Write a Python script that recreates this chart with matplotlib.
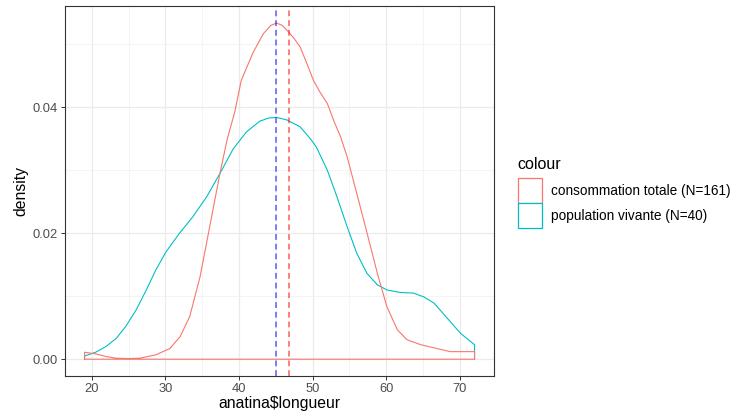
import matplotlib.pyplot as plt
from matplotlib.patches import Patch

plt.rcParams['font.family'] = ['Liberation Sans', 'DejaVu Sans']

# density curves
conso_x = [19, 20.5, 22, 23.3, 25, 26.5, 28.7, 30.6, 32, 33.3, 34.7, 36, 37.4, 38.4, 39.4,
           40.3, 41.9, 43.3, 44.3, 45.1, 45.9, 46.7, 47.5, 48.3, 49.2, 50.1, 51, 52, 52.9,
           53.8, 54.7, 56, 57.4, 58.8, 60.1, 61.5, 62.8, 64.7, 66.5, 68.7, 72]
conso_y = [0.0011, 0.00085, 0.0004, 0.00016, 0.0001, 0.00016, 0.0007, 0.0017, 0.0036, 0.0068,
           0.0131, 0.021, 0.0295, 0.035, 0.0392, 0.0443, 0.0487, 0.0517, 0.0530, 0.0534,
           0.0530, 0.0520, 0.0509, 0.0496, 0.047, 0.0443, 0.0424, 0.0406, 0.0378, 0.0353,
           0.0321, 0.0263, 0.020, 0.0136, 0.0083, 0.0047, 0.0031, 0.0023, 0.0018, 0.0012,
           0.0012]

vivante_x = [19, 20.5, 21.9, 23.3, 24.6, 26, 27.4, 28.7, 30.1, 31.9, 33.7, 35.6, 37.4, 39.2,
             41, 42.8, 44, 45.1, 46.5, 48.3, 49.7, 50.5, 52, 53.3, 54.7, 56, 57.4, 58.8,
             60.1, 61.9, 63.7, 65.1, 66.5, 68.3, 70.1, 72]
vivante_y = [0.0005, 0.0011, 0.002, 0.0033, 0.0052, 0.0078, 0.011, 0.0142, 0.0171, 0.020,
             0.0226, 0.0258, 0.0295, 0.0334, 0.0361, 0.0378, 0.0383, 0.0384, 0.038, 0.0369,
             0.035, 0.0337, 0.030, 0.0258, 0.021, 0.0168, 0.0136, 0.0118, 0.011, 0.0106,
             0.0105, 0.0099, 0.0089, 0.0065, 0.0041, 0.0023]

mean_conso = 46.77
mean_vivante = 45.08

labels = ['consommation totale (N=161)', 'population vivante (N=40)']
colors = ['#F8766D', '#00BFC4']

fig = plt.figure(figsize=(7.34, 4.19), dpi=100)
ax = fig.add_axes([0.0886, 0.1026, 0.5845, 0.8831])

# cyan outline (its baseline is hidden under the red one in the original)
ax.plot([vivante_x[0]] + vivante_x + [vivante_x[-1]], [0] + vivante_y + [0],
        color=colors[1], lw=0.8)
# red polygon outline like geom_density
ax.plot([conso_x[0]] + conso_x + [conso_x[-1], conso_x[0]], [0] + conso_y + [0, 0],
        color=colors[0], lw=0.8)

ax.axvline(mean_vivante, color='blue', alpha=0.5, lw=1.4, ls=(0, (3, 2)))
ax.axvline(mean_conso, color='red', alpha=0.5, lw=1.4, ls=(0, (3, 2)))

ax.set_xlim(16.35, 74.65)
ax.set_ylim(-0.00267, 0.0561)
ax.set_xticks([20, 30, 40, 50, 60, 70])
ax.set_xticks([25, 35, 45, 55, 65], minor=True)
ax.set_yticks([0.00, 0.02, 0.04])
ax.set_yticks([0.01, 0.03, 0.05], minor=True)
ax.set_yticklabels(['0.00', '0.02', '0.04'])
ax.grid(which='major', color='#EBEBEB', lw=0.9)
ax.grid(which='minor', color='#F2F2F2', lw=0.6)
ax.set_axisbelow(True)
ax.tick_params(which='major', length=3, width=0.7, color='#333333',
               labelsize=9.3, labelcolor='#4D4D4D', pad=2)
ax.tick_params(which='minor', length=0)
for s in ax.spines.values():
    s.set_color('#333333')
    s.set_linewidth(0.8)

ax.set_xlabel('anatina$longueur', fontsize=11.3, labelpad=1)
ax.set_ylabel('density', fontsize=11.3, labelpad=3)

# legend title as its own text so the gap above the keys matches
fig.text(0.7053, 0.596, 'colour', fontsize=11.5, va='baseline', ha='left')
handles = [Patch(facecolor='white', edgecolor=c, lw=0.9) for c in colors]
leg = fig.legend(handles, labels, loc='upper left',
                 bbox_to_anchor=(0.6895, 0.6036), frameon=False, fontsize=9.8,
                 handlelength=1.75, handleheight=2.45,
                 handletextpad=0.65, labelspacing=0.0)

plt.savefig('out.png')
